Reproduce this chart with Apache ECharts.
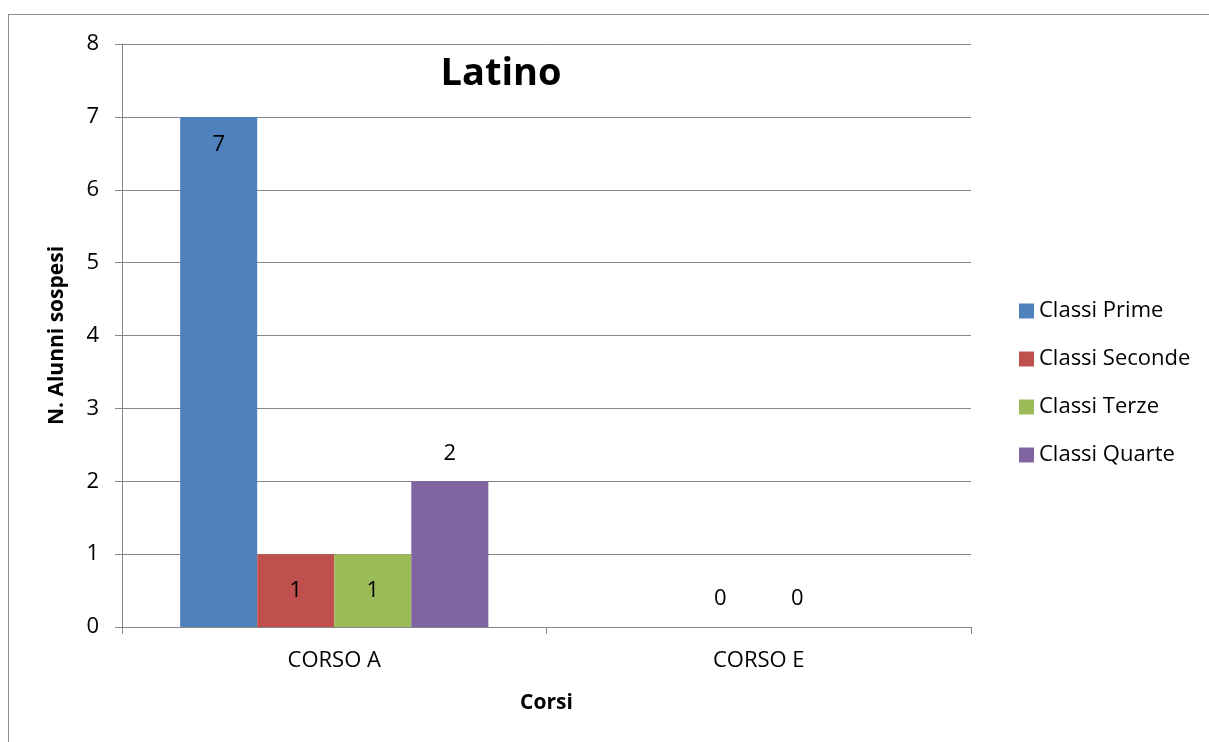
<!DOCTYPE html>
<html>
<head>
<meta charset="utf-8">
<script src="https://cdn.jsdelivr.net/npm/echarts@6/dist/echarts.min.js"></script>
<style>
  html, body { margin: 0; padding: 0; background: #fff; }
  #frame { position: absolute; left: 8px; top: 14px; width: 1201px; height: 728px;
           border-top: 1px solid #8c8c8c; border-left: 1px solid #8c8c8c; box-sizing: border-box; }
  #chart { position: absolute; left: 0; top: 0; width: 1209px; height: 742px; }
</style>
</head>
<body>
<div id="frame"></div>
<div id="chart"></div>
<script>
var corsi = ['CORSO A', 'CORSO E'];
var serie = ['Classi Prime', 'Classi Seconde', 'Classi Terze', 'Classi Quarte'];
var prime = [7, null];
var seconde = [1, 0];
var terze = [1, 0];
var quarte = [2, null];
var yTicks = [0, 1, 2, 3, 4, 5, 6, 7, 8];

var colori = ['#4F81BD', '#C0504D', '#9BBB59', '#8064A2'];
var font = '"Open Sans", sans-serif';

// posizione etichette come nel grafico originale
function dati(valori, posA) {
	return valori.map(function(v, i) {
		if (v === null) return '-';
		return {
			value: v,
			label: { position: i === 0 ? posA : 'top' }
		};
	});
}

var valori = [prime, seconde, terze, quarte];
var posizioni = ['insideTop', 'inside', 'inside', 'top'];

var chart = echarts.init(document.getElementById('chart'));
var option = {
	animation: false,
	textStyle: { fontFamily: font },
	title: {
		text: 'Latino',
		left: 496,
		top: 50,
		textAlign: 'center',
		textStyle: { fontSize: 38, fontWeight: 'bold', color: '#000', fontFamily: font }
	},
	legend: {
		orient: 'vertical',
		left: 1014,
		top: 295,
		itemWidth: 15,
		itemHeight: 15,
		itemGap: 26,
		icon: 'rect',
		textStyle: { fontSize: 22, lineHeight: 22, color: '#000', fontFamily: font },
		data: serie
	},
	grid: { left: 122, right: 238, top: 44, bottom: 115 },
	xAxis: {
		type: 'category',
		data: corsi,
		name: 'Corsi',
		nameLocation: 'middle',
		nameGap: 66,
		nameTextStyle: { fontSize: 21, fontWeight: 'bold', color: '#000' },
		axisLine: { lineStyle: { color: '#868686', width: 1 } },
		axisTick: { show: true, length: 7, lineStyle: { color: '#868686' } },
		axisLabel: { fontSize: 22, color: '#000', margin: 23 }
	},
	yAxis: {
		type: 'value',
		min: 0,
		max: 8,
		interval: 1,
		name: 'N. Alunni sospesi',
		nameLocation: 'middle',
		nameGap: 54,
		nameTextStyle: { fontSize: 21, fontWeight: 'bold', color: '#000' },
		axisLine: { show: true, lineStyle: { color: '#868686', width: 1 } },
		axisTick: { show: true, length: 7, lineStyle: { color: '#868686' } },
		axisLabel: {
			fontSize: 22, color: '#000', margin: 23,
			formatter: function(v) { return yTicks.indexOf(v) >= 0 ? String(v) : ''; }
		},
		splitLine: { lineStyle: { color: '#868686', width: 1 } }
	},
	series: serie.map(function(nome, k) {
		return {
			name: nome,
			type: 'bar',
			barGap: '0%',
			barCategoryGap: '27.4%',
			itemStyle: { color: colori[k] },
			label: { show: true, fontSize: 22, color: '#000', distance: 17 },
			data: dati(valori[k], posizioni[k])
		};
	})
};
chart.setOption(option);
</script>
</body>
</html>
